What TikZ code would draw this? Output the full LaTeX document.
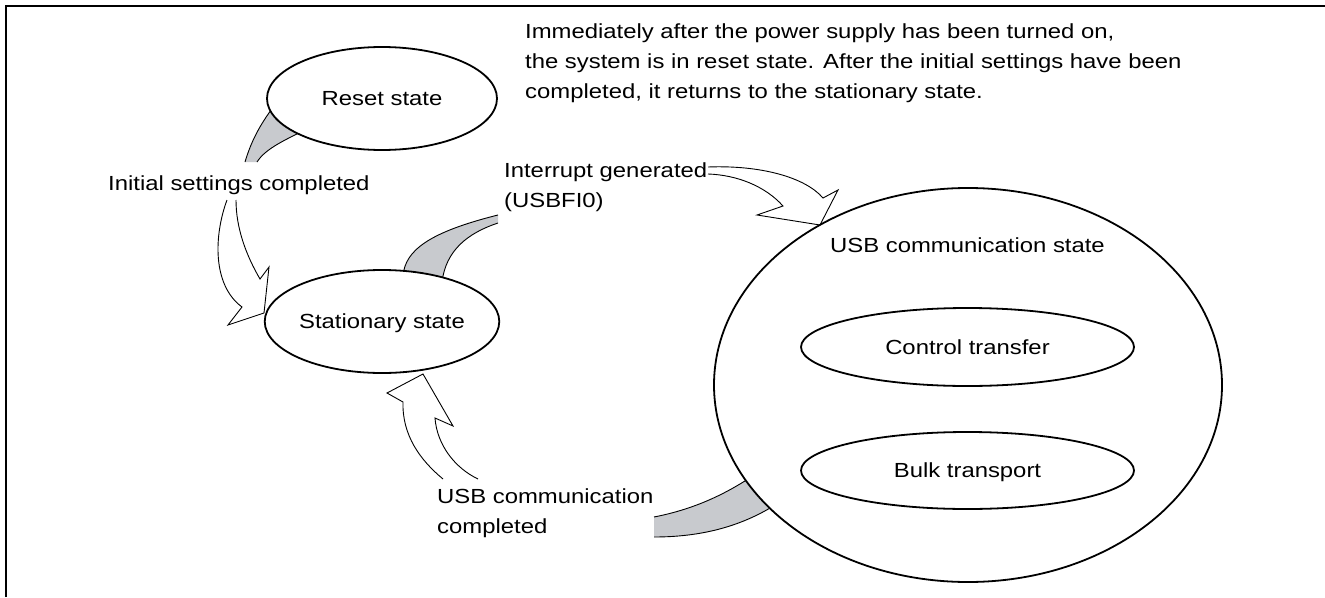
\documentclass[tikz,border=0pt]{standalone}
\usepackage{fontspec}
\setmainfont{Liberation Sans}[FakeStretch=1.17]
\usetikzlibrary{shapes.geometric}
\definecolor{bandgray}{RGB}{200,202,206}
\pgfdeclarelayer{bg}
\pgfsetlayers{bg,main}
\newcommand\mylines[1]{\begin{tabular}[t]{@{}l@{}}#1\end{tabular}}
\begin{document}
\begin{tikzpicture}[x=1pt,y=-1pt,
  every node/.style={font=\fontsize{20.4}{30}\selectfont},
  state/.style={ellipse, draw, line width=1.8pt, fill=white, inner sep=0pt, text depth=0pt},
  band/.style={fill=bandgray},
  wfill/.style={fill=white},
  edge/.style={draw=black, line width=0.9pt},
  lbl/.style={anchor=base west, inner sep=0pt, align=left}]
\useasboundingbox (0,0) rectangle (1325,597);
% frame
\draw[line width=2pt] (5.5,597) -- (5.5,5.5) -- (1325,5.5);
% states
\node[state, minimum width=230pt, minimum height=103pt] (reset) at (382,98.5) {Reset state};
\node[state, minimum width=232pt, minimum height=103pt] (stat) at (382,321.5) {Stationary state};
\node[state, minimum width=508pt, minimum height=394pt] (usb) at (968,385) {};
\node[anchor=base, inner sep=0pt] (usbl) at (967.5,252) {USB communication state};
\node[state, minimum width=333pt, minimum height=78pt] (ctrl) at (967.5,347) {Control transfer};
\node[state, minimum width=333pt, minimum height=77pt] (bulk) at (967.5,470.5) {Bulk transport};
% labels
\node[lbl] (init) at (108,190) {Initial settings completed};
\node[lbl] (intr) at (504,177) {\mylines{Interrupt generated\\(USBFI0)}};
\node[lbl] (done) at (437,503) {\mylines{USB communication\\completed}};
\node[lbl] (note) at (525,38) {\mylines{Immediately after the power supply has been turned on,\\the system is in reset state. After the initial settings have been\\completed, it returns to the stationary state.}};
\begin{pgfonlayer}{bg}
% arrow 1: reset -> stationary
\fill[band] (245,162) .. controls (251,142) and (259,126) .. (274,106) -- (315,125) .. controls (285,140) and (266,148) .. (257,162) -- cycle;
\draw[edge] (245,162) .. controls (251,142) and (259,126) .. (274,106);
\draw[edge] (315,125) .. controls (285,140) and (266,148) .. (257,162);
\fill[wfill] (227,200) .. controls (214,235) and (212,285) .. (242,307) -- (228,325) -- (264,313) -- (269,267) -- (260,279) .. controls (246,255) and (236,228) .. (236,200) -- cycle;
\draw[edge] (227,200) .. controls (214,235) and (212,285) .. (242,307) -- (228,325) -- (264,313) -- (269,267) -- (260,279) .. controls (246,255) and (236,228) .. (236,200);
% arrow 2: stationary -> usb
\fill[band] (403,276) .. controls (405,250) and (430,232) .. (498,215) -- (498,223) .. controls (468,233) and (446,250) .. (442,282) -- cycle;
\draw[edge] (403,276) .. controls (405,250) and (430,232) .. (498,215);
\draw[edge] (498,223) .. controls (468,233) and (446,250) .. (442,282);
\fill[wfill] (708,167) .. controls (760,165) and (805,177) .. (823,198) -- (838,190) -- (820,225) -- (757,215) -- (783,206) .. controls (765,186) and (737,175) .. (708,174) -- cycle;
\draw[edge] (708,167) .. controls (760,165) and (805,177) .. (823,198) -- (838,190) -- (820,225) -- (757,215) -- (783,206) .. controls (765,186) and (737,175) .. (708,174);
% arrow 3: usb -> stationary
\fill[band] (654,517) .. controls (690,510) and (720,497) .. (748,479) -- (775,505) .. controls (740,527) and (700,537) .. (654,537) -- cycle;
\draw[edge] (654,517) .. controls (690,510) and (720,497) .. (748,479);
\draw[edge] (775,505) .. controls (740,527) and (700,537) .. (654,537);
\fill[wfill] (443,479) .. controls (420,460) and (402,435) .. (403,402) -- (387,393) -- (423,374) -- (453,426) -- (435,418) .. controls (437,445) and (455,468) .. (478,479) -- cycle;
\draw[edge] (443,479) .. controls (420,460) and (402,435) .. (403,402) -- (387,393) -- (423,374) -- (453,426) -- (435,418) .. controls (437,445) and (455,468) .. (478,479);
\end{pgfonlayer}
\end{tikzpicture}
\end{document}
